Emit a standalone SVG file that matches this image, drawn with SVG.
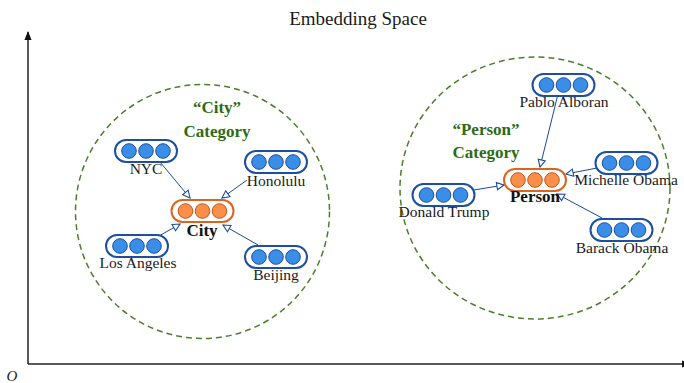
<svg xmlns="http://www.w3.org/2000/svg" width="684" height="383" viewBox="0 0 684 383">
<defs>
<style>
.lbl{font-family:"Liberation Serif","Times New Roman",serif;font-size:15.5px;fill:#1a1a1a;text-anchor:middle}
.bold{font-family:"Liberation Serif","Times New Roman",serif;font-size:17px;font-weight:bold;fill:#111;text-anchor:middle}
.cat{font-family:"Liberation Serif","Times New Roman",serif;font-size:17px;font-weight:bold;fill:#2e6b12;text-anchor:middle}
.pill{fill:#fff;stroke:#1c4f9e;stroke-width:2}
.dot{fill:#3a8ee8;stroke:#1c4f9e;stroke-width:1}
.opill{fill:#fff;stroke:#d9651f;stroke-width:2}
.odot{fill:#f98f4a;stroke:#c4561a;stroke-width:1}
.edge{stroke:#1a4a9a;stroke-width:1;fill:none;marker-end:url(#oa)}
.group{fill:none;stroke:#4a7f2a;stroke-width:1.5;stroke-dasharray:6 4}
.axis{stroke:#222;stroke-width:1.5;fill:none}
</style>
<marker id="oa" viewBox="0 0 10 10" refX="9" refY="5" markerWidth="9" markerHeight="9" markerUnits="userSpaceOnUse" orient="auto">
<path d="M1,1 L9,5 L1,9 Z" fill="#fff" stroke="#1a4a9a" stroke-width="1.2"/>
</marker>
<marker id="ax" viewBox="0 0 10 10" refX="9" refY="5" markerWidth="9" markerHeight="9" markerUnits="userSpaceOnUse" orient="auto">
<path d="M0,1 L10,5 L0,9 Z" fill="#111"/>
</marker>
<g id="vec">
<rect x="-31" y="-11" width="62" height="22" rx="11" class="pill"/>
<circle cx="-17" cy="0" r="7.3" class="dot"/>
<circle cx="0" cy="0" r="7.3" class="dot"/>
<circle cx="17" cy="0" r="7.3" class="dot"/>
</g>
<g id="ovec">
<rect x="-31" y="-11" width="62" height="22" rx="11" class="opill"/>
<circle cx="-17" cy="0" r="7.3" class="odot"/>
<circle cx="0" cy="0" r="7.3" class="odot"/>
<circle cx="17" cy="0" r="7.3" class="odot"/>
</g>
</defs>
<rect width="684" height="383" fill="#fff"/>

<g id="axes">
<line x1="28" y1="364" x2="28" y2="32" class="axis" marker-end="url(#ax)"/>
<line x1="28" y1="364" x2="690" y2="364" class="axis" marker-end="url(#ax)"/>
<text x="12" y="381" style="font-family:'Liberation Serif',serif;font-size:15px;font-style:italic;fill:#222;text-anchor:middle">O</text>
<text x="358" y="25" style="font-family:'Liberation Serif',serif;font-size:19px;fill:#1a1a1a;text-anchor:middle">Embedding Space</text>
</g>

<g id="city-group">
<circle cx="202.5" cy="211.5" r="127" class="group"/>
<text x="217" y="113" class="cat">“City”</text>
<text x="217" y="137" class="cat">Category</text>
</g>
<g id="person-group">
<ellipse cx="535" cy="188" rx="135" ry="131" class="group"/>
<text x="486" y="135" class="cat">“Person”</text>
<text x="486" y="158" class="cat">Category</text>
</g>

<g id="connectors">
<line x1="160" y1="162" x2="190" y2="198" class="edge"/>
<line x1="247" y1="180" x2="222" y2="198" class="edge"/>
<line x1="159" y1="236" x2="180" y2="224" class="edge"/>
<line x1="258" y1="245" x2="223" y2="225" class="edge"/>
<line x1="558" y1="94" x2="540" y2="167" class="edge"/>
<line x1="597" y1="168" x2="566" y2="174" class="edge"/>
<line x1="474" y1="190" x2="504" y2="185" class="edge"/>
<line x1="602" y1="218" x2="557" y2="194" class="edge"/>
</g>

<g id="nyc"><use href="#vec" x="146" y="151"/><text x="146" y="174" class="lbl">NYC</text></g>
<g id="honolulu"><use href="#vec" x="276" y="162"/><text x="276" y="186" class="lbl">Honolulu</text></g>
<g id="city"><use href="#ovec" x="202.5" y="211"/><text x="202" y="236" class="bold">City</text></g>
<g id="los-angeles"><use href="#vec" x="137" y="246"/><text x="138" y="268" class="lbl">Los Angeles</text></g>
<g id="beijing"><use href="#vec" x="276" y="257"/><text x="276" y="280" class="lbl">Beijing</text></g>

<g id="pablo-alboran"><use href="#vec" x="563.5" y="85"/><text x="564" y="107" class="lbl">Pablo Alboran</text></g>
<g id="michelle-obama"><use href="#vec" x="626.5" y="163"/><text x="626" y="185" class="lbl">Michelle Obama</text></g>
<g id="person"><use href="#ovec" x="535" y="180"/><text x="535" y="202" class="bold">Person</text></g>
<g id="donald-trump"><use href="#vec" x="443.5" y="195"/><text x="444" y="217" class="lbl">Donald Trump</text></g>
<g id="barack-obama"><use href="#vec" x="621.5" y="230"/><text x="622" y="253" class="lbl">Barack Obama</text></g>
</svg>
